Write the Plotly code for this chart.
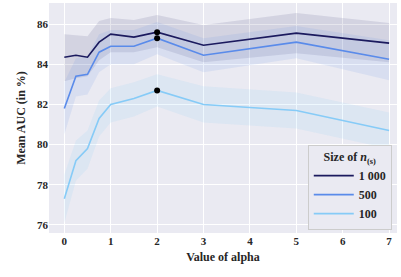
import plotly.graph_objects as go

alpha = [0, 0.25, 0.5, 0.75, 1, 1.5, 2, 3, 5, 7]
labels = ["1 000", "500", "100"]
mean_1000 = [84.35, 84.45, 84.35, 85.1, 85.5, 85.35, 85.6, 84.95, 85.55, 85.05]
low_1000 = [83.15, 83.3, 83.4, 84.2, 84.6, 84.6, 84.85, 84.1, 84.55, 84.1]
high_1000 = [85.5, 85.45, 85.4, 86.15, 86.3, 86.2, 86.45, 85.95, 86.55, 86.05]
mean_500 = [81.8, 83.4, 83.5, 84.6, 84.9, 84.9, 85.3, 84.45, 85.1, 84.25]
low_500 = [80.5, 82.4, 82.5, 83.6, 84.0, 84.0, 84.5, 83.6, 84.3, 83.2]
high_500 = [83.1, 84.3, 84.4, 85.5, 85.7, 85.7, 86.1, 85.3, 85.9, 85.2]
mean_100 = [77.3, 79.2, 79.8, 81.3, 82.0, 82.3, 82.7, 82.0, 81.7, 80.7]
low_100 = [76.1, 78.2, 78.8, 80.4, 81.1, 81.4, 81.9, 81.1, 80.8, 79.8]
high_100 = [78.5, 80.2, 80.7, 82.2, 82.8, 83.1, 83.5, 82.9, 82.6, 81.6]
best_x = 2

series = [
    (labels[0], mean_1000, low_1000, high_1000, "#1b1a5e", "rgba(27,26,94,0.11)"),
    (labels[1], mean_500, low_500, high_500, "#5a8bea", "rgba(90,139,234,0.12)"),
    (labels[2], mean_100, low_100, high_100, "#86cbf7", "rgba(134,203,247,0.14)"),
]

fig = go.Figure()
for name, m, lo, hi, col, fill in series:
    fig.add_trace(go.Scatter(x=alpha, y=hi, mode="lines", line=dict(width=0),
                             showlegend=False, hoverinfo="skip"))
    fig.add_trace(go.Scatter(x=alpha, y=lo, mode="lines", line=dict(width=0),
                             fill="tonexty", fillcolor=fill, showlegend=False,
                             hoverinfo="skip"))
for name, m, lo, hi, col, fill in series:
    fig.add_trace(go.Scatter(x=alpha, y=m, mode="lines", name=name,
                             line=dict(color=col, width=1.6)))
for name, m, lo, hi, col, fill in series:
    fig.add_trace(go.Scatter(x=[best_x], y=[m[alpha.index(best_x)]], mode="markers",
                             marker=dict(color="black", size=6), showlegend=False))

font = "Liberation Serif, Times New Roman, serif"
fig.update_layout(
    width=401, height=277,
    margin=dict(l=49, r=4, t=3, b=44),
    paper_bgcolor="white", plot_bgcolor="#EAEAF2",
    font=dict(family=font, color="#262626", size=11),
    legend=dict(
        title=dict(text="<b>Size of </b><i>n</i><sub>(s)</sub>", side="top center",
                   font=dict(size=12, family=font)),
        x=0.985, y=0.015, xanchor="right", yanchor="bottom",
        traceorder="normal",
        bgcolor="#EAEAF2", bordercolor="#CCCCCC", borderwidth=1,
        font=dict(size=12, family=font, weight="bold"),
        itemwidth=40, tracegroupgap=0,
    ),
    xaxis=dict(
        range=[-0.33, 7.17], tickvals=[0, 1, 2, 3, 4, 5, 6, 7],
        showgrid=True, gridcolor="white", gridwidth=1.2, zeroline=False,
        ticks="", tickfont=dict(family=font, size=11, weight="bold"), automargin=False,
        title=dict(text="<b>Value of alpha</b>", font=dict(family=font, size=12), standoff=6),
    ),
    yaxis=dict(
        range=[75.6, 87.05], tickvals=[76, 78, 80, 82, 84, 86],
        showgrid=True, gridcolor="white", gridwidth=1.2, zeroline=False,
        ticks="", tickfont=dict(family=font, size=11, weight="bold"), automargin=False,
        title=dict(text="<b>Mean AUC (in %)</b>", font=dict(family=font, size=12), standoff=8),
    ),
)
fig.write_html("out.html", config={"displayModeBar": False},
               post_script="document.body.style.margin='0';")
